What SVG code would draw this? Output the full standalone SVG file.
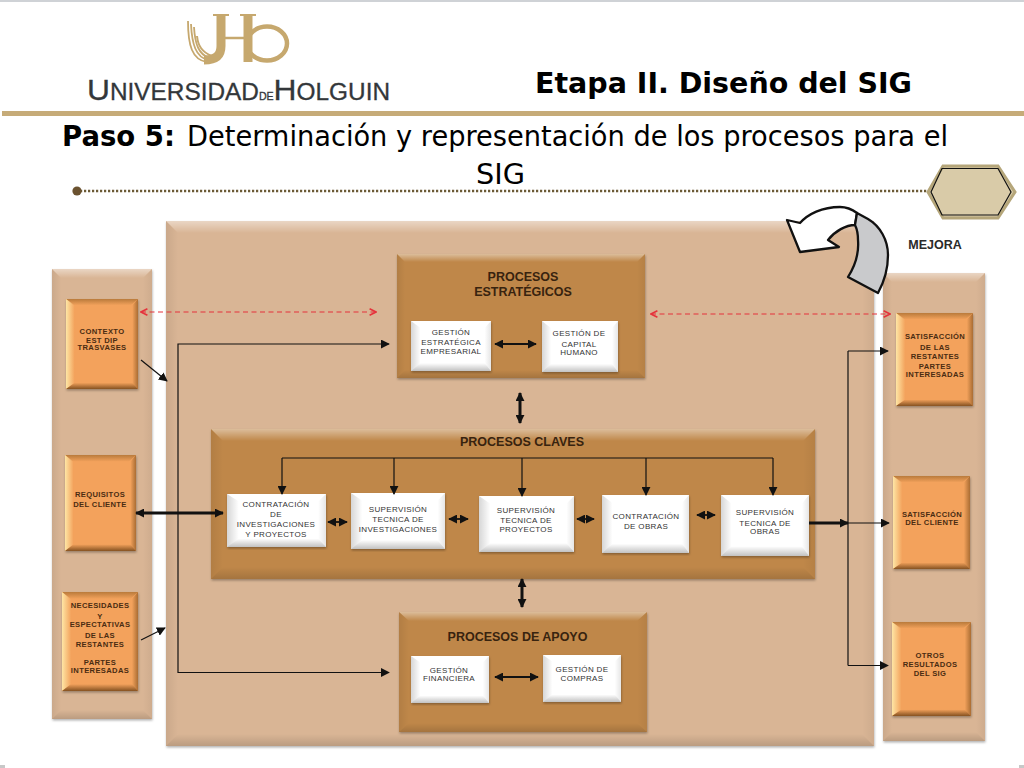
<svg xmlns="http://www.w3.org/2000/svg" width="1024" height="768" viewBox="0 0 1024 768">
<style>
.t{font-family:"Liberation Sans",Arial,sans-serif;text-anchor:middle}
.w{font-size:8px;fill:#333;letter-spacing:.35px}
.o{font-size:7.6px;fill:#4a2c12;font-weight:bold;letter-spacing:.35px}
.h{font-size:12.5px;fill:#38230f;font-weight:bold}
.title{font-family:"DejaVu Sans",Verdana,sans-serif;fill:#000;font-size:29px}
.panel{fill:#d9b595;filter:url(#sh)}
.proc{fill:#bf8748;filter:url(#sh)}
.org{fill:#f3a25c;filter:url(#sh)}
.wht{fill:#fff;filter:url(#sh)}
.top{fill:url(#gTop)}
.lft{fill:url(#gLft)}
.rgt{fill:url(#gRgt)}
.bot{fill:url(#gBot)}
.c{fill:none;stroke:#111}
.s1{stroke-width:1.2px}
.s2{stroke-width:1.8px}
.s3{stroke-width:3px}
.e{marker-end:url(#a)}
.b{marker-start:url(#a);marker-end:url(#a)}
.r{fill:none;stroke:#e5333c;stroke-width:1.2px;stroke-dasharray:5 3.5;marker-start:url(#ar);marker-end:url(#ar)}
</style>
<defs>
<filter id="sh" x="-5%" y="-5%" width="110%" height="110%"><feDropShadow dx="0.5" dy="1.5" stdDeviation="1.2" flood-color="#000" flood-opacity=".3"/></filter>
<linearGradient id="gTop" x1="0" y1="0" x2="0" y2="1"><stop offset="0" stop-color="#fff" stop-opacity=".45"/><stop offset="1" stop-color="#fff" stop-opacity="0"/></linearGradient>
<linearGradient id="gLft" x1="0" y1="0" x2="1" y2="0"><stop offset="0" stop-color="#000" stop-opacity=".07"/><stop offset="1" stop-color="#000" stop-opacity="0"/></linearGradient>
<linearGradient id="gRgt" x1="1" y1="0" x2="0" y2="0"><stop offset="0" stop-color="#000" stop-opacity=".05"/><stop offset="1" stop-color="#000" stop-opacity="0"/></linearGradient>
<linearGradient id="gBot" x1="0" y1="1" x2="0" y2="0"><stop offset="0" stop-color="#000" stop-opacity=".14"/><stop offset="1" stop-color="#000" stop-opacity="0"/></linearGradient>
<linearGradient id="oTop" x1="0" y1="0" x2="0" y2="1"><stop offset="0" stop-color="#8a5a20" stop-opacity=".55"/><stop offset="1" stop-color="#8a5a20" stop-opacity="0"/></linearGradient>
<linearGradient id="oLft" x1="0" y1="0" x2="1" y2="0"><stop offset="0" stop-color="#ffe9a8" stop-opacity=".95"/><stop offset="1" stop-color="#ffe9a8" stop-opacity="0"/></linearGradient>
<linearGradient id="oRgt" x1="1" y1="0" x2="0" y2="0"><stop offset="0" stop-color="#7a4a18" stop-opacity=".6"/><stop offset="1" stop-color="#7a4a18" stop-opacity="0"/></linearGradient>
<linearGradient id="oBot" x1="0" y1="1" x2="0" y2="0"><stop offset="0" stop-color="#6a3e12" stop-opacity=".8"/><stop offset="1" stop-color="#6a3e12" stop-opacity="0"/></linearGradient>
<linearGradient id="wLft" x1="0" y1="0" x2="1" y2="0"><stop offset="0" stop-color="#000" stop-opacity=".16"/><stop offset="1" stop-color="#000" stop-opacity="0"/></linearGradient>
<linearGradient id="wRgt" x1="1" y1="0" x2="0" y2="0"><stop offset="0" stop-color="#000" stop-opacity=".1"/><stop offset="1" stop-color="#000" stop-opacity="0"/></linearGradient>
<linearGradient id="wBot" x1="0" y1="1" x2="0" y2="0"><stop offset="0" stop-color="#000" stop-opacity=".24"/><stop offset="1" stop-color="#000" stop-opacity="0"/></linearGradient>
<marker id="a" viewBox="0 0 10 10" refX="9" refY="5" markerWidth="9" markerHeight="9" markerUnits="userSpaceOnUse" orient="auto-start-reverse"><path d="M0 0L10 5L0 10Z" fill="#111"/></marker>
<marker id="ar" viewBox="0 0 10 10" refX="9" refY="5" markerWidth="8" markerHeight="8" markerUnits="userSpaceOnUse" orient="auto-start-reverse"><path d="M1 1L9 5L1 9" fill="none" stroke="#e5333c" stroke-width="2"/></marker>
<symbol id="bo" viewBox="0 0 100 100" preserveAspectRatio="none">
<path d="M0 0H100L90 7H10Z" fill="url(#oTop)"/>
<path d="M0 0L12 7V93L0 100Z" fill="url(#oLft)"/>
<path d="M100 0L92 7V93L100 100Z" fill="url(#oRgt)"/>
<path d="M0 100L12 93H92L100 100Z" fill="url(#oBot)"/>
</symbol>
<symbol id="bw" viewBox="0 0 100 100" preserveAspectRatio="none">
<path d="M0 0L12 14V84L0 100Z" fill="url(#wLft)"/>
<path d="M100 0L92 14V84L100 100Z" fill="url(#wRgt)"/>
<path d="M0 100L12 84H92L100 100Z" fill="url(#wBot)"/>
</symbol>
</defs>
<rect width="1024" height="768" fill="#fff"/>
<rect width="1024" height="2" fill="#cfd2d6"/>
<rect x="2" y="111" width="1022" height="5" fill="#c6ab78"/>
<rect x="0" y="765" width="5" height="3" fill="#c8c8c8"/>
<rect x="1019" y="765" width="5" height="3" fill="#c8c8c8"/>

<g id="logo">
<g fill="none" stroke="#c6a86e">
<path d="M188 21C188 45 192 60 207 62" stroke-width="1.8"/>
<path d="M191 24C192 45 196 57 208 60" stroke-width="1.8"/>
<path d="M194 27C195 45 199 54 209 58" stroke-width="1.8"/>
<path d="M197 36C198 46 202 52 212 56" stroke-width="2"/>
<path d="M204 60C216 60 221 55 221 46V15" stroke-width="9"/>
<path d="M213 15H229M240 15H256" stroke-width="2"/>
<path d="M221 38H248" stroke-width="2.500"/>
<path d="M248 15V62" stroke-width="9"/>
<ellipse cx="267" cy="43.500" rx="20" ry="17" stroke-width="4.500"/>
</g>
<text x="87" y="100" font-family="'Liberation Sans',Arial,sans-serif" fill="#33373a" stroke="#33373a" stroke-width=".3" font-size="30" textLength="303" lengthAdjust="spacingAndGlyphs">U<tspan font-size="23">NIVERSIDAD</tspan><tspan font-size="10">DE</tspan>H<tspan font-size="23">OLGUIN</tspan></text>
</g>

<g id="titles">
<text class="title" x="535" y="93" font-weight="bold" textLength="377" lengthAdjust="spacingAndGlyphs">Etapa II. Diseño del SIG</text>
<text class="title" x="62" y="146" font-weight="bold" textLength="113" lengthAdjust="spacingAndGlyphs">Paso 5:</text>
<text class="title" x="187" y="146" textLength="761" lengthAdjust="spacingAndGlyphs">Determinación y representación de los procesos para el</text>
<text class="title" x="476" y="184" textLength="49" lengthAdjust="spacingAndGlyphs">SIG</text>
</g>

<g id="ornament">
<line x1="80" y1="191" x2="932" y2="191" stroke="#6b5a35" stroke-width="2.6" stroke-dasharray="2.2 1.8"/>
<circle cx="77" cy="191" r="4.6" fill="#6b5230"/>
<polygon points="928,192 943,166 998,166 1015,192 998,218 943,218" fill="#d9cba8" stroke="#b5a67a" stroke-width="3"/>
<polygon points="931,192 942,168.500 998,168.500 1011,192 998,215 942,215" fill="none" stroke="#111" stroke-width="1.2"/>
</g>

<g id="panel-sistema">
<rect class="panel" x="166" y="221" width="708" height="525"/>
<path class="top" d="M166 221H874L862 233H178Z"/><path class="lft" d="M166 221L178 233V734L166 746Z"/><path class="rgt" d="M874 221L862 233V734L874 746Z"/><path class="bot" d="M166 746L178 734H862L874 746Z"/>
</g>
<g id="panel-entradas">
<rect class="panel" x="52" y="269" width="100" height="450"/>
<path class="top" d="M52 269H152L143 278H61Z"/><path class="lft" d="M52 269L61 278V710L52 719Z"/><path class="rgt" d="M152 269L143 278V710L152 719Z"/><path class="bot" d="M52 719L61 710H143L152 719Z"/>
</g>
<g id="panel-salidas">
<rect class="panel" x="883" y="273" width="102" height="468"/>
<path class="top" d="M883 273H985L976 282H892Z"/><path class="lft" d="M883 273L892 282V732L883 741Z"/><path class="rgt" d="M985 273L976 282V732L985 741Z"/><path class="bot" d="M883 741L892 732H976L985 741Z"/>
</g>

<g id="proc-estrategicos">
<rect class="proc" x="397" y="254" width="248" height="124"/>
<path class="top" d="M397 254H645L637 262H405Z"/><path class="lft" d="M397 254L405 262V370L397 378Z"/><path class="rgt" d="M645 254L637 262V370L645 378Z"/><path class="bot" d="M397 378L405 370H637L645 378Z"/>
<text class="t h" x="523" y="281">PROCESOS</text><text class="t h" x="523" y="296">ESTRATÉGICOS</text>
</g>
<g id="proc-claves">
<rect class="proc" x="211" y="429" width="604" height="150"/>
<path class="top" d="M211 429H815L803 441H223Z"/><path class="lft" d="M211 429L223 441V567L211 579Z"/><path class="rgt" d="M815 429L803 441V567L815 579Z"/><path class="bot" d="M211 579L223 567H803L815 579Z"/>
<text class="t h" x="522" y="446">PROCESOS CLAVES</text>
</g>
<g id="proc-apoyo">
<rect class="proc" x="399" y="612" width="248" height="120"/>
<path class="top" d="M399 612H647L637 621H409Z"/><path class="lft" d="M399 612L409 621V723L399 732Z"/><path class="rgt" d="M647 612L637 621V723L647 732Z"/><path class="bot" d="M399 732L409 723H637L647 732Z"/>
<text class="t h" x="517.500" y="641">PROCESOS DE APOYO</text>
</g>

<g id="contexto"><rect class="org" x="66" y="299" width="72" height="90"/><use href="#bo" x="66" y="299" width="72" height="90"/>
<text class="t o" x="102" y="334">CONTEXTO</text><text class="t o" x="102" y="342.500">EST DIP</text><text class="t o" x="102" y="350">TRASVASES</text></g>
<g id="requisitos"><rect class="org" x="65" y="455" width="71" height="96"/><use href="#bo" x="65" y="455" width="71" height="96"/>
<text class="t o" x="100" y="497">REQUISITOS</text><text class="t o" x="100" y="507">DEL CLIENTE</text></g>
<g id="necesidades"><rect class="org" x="62" y="592" width="76" height="99"/><use href="#bo" x="62" y="592" width="76" height="99"/>
<text class="t o" x="100" y="608">NECESIDADES</text><text class="t o" x="100" y="618.500">Y</text><text class="t o" x="100" y="627">ESPECTATIVAS</text><text class="t o" x="100" y="637.500">DE LAS</text><text class="t o" x="100" y="647">RESTANTES</text><text class="t o" x="100" y="665">PARTES</text><text class="t o" x="100" y="673">INTERESADAS</text></g>

<g id="sat-partes"><rect class="org" x="896" y="313" width="77" height="93"/><use href="#bo" x="896" y="313" width="77" height="93"/>
<text class="t o" x="935" y="339">SATISFACCIÓN</text><text class="t o" x="935" y="350">DE LAS</text><text class="t o" x="935" y="359">RESTANTES</text><text class="t o" x="935" y="369">PARTES</text><text class="t o" x="935" y="377">INTERESADAS</text></g>
<g id="sat-cliente"><rect class="org" x="893" y="476" width="77" height="93"/><use href="#bo" x="893" y="476" width="77" height="93"/>
<text class="t o" x="932" y="517">SATISFACCIÓN</text><text class="t o" x="932" y="525">DEL CLIENTE</text></g>
<g id="otros"><rect class="org" x="892" y="622" width="79" height="94"/><use href="#bo" x="892" y="622" width="79" height="94"/>
<text class="t o" x="930" y="658">OTROS</text><text class="t o" x="930" y="667">RESULTADOS</text><text class="t o" x="930" y="676">DEL SIG</text></g>

<g id="gestion-estrategica"><rect class="wht" x="411" y="321" width="80" height="50"/><use href="#bw" x="411" y="321" width="80" height="50"/>
<text class="t w" x="451" y="335">GESTIÓN</text><text class="t w" x="451" y="345">ESTRATÉGICA</text><text class="t w" x="451" y="354">EMPRESARIAL</text></g>
<g id="capital-humano"><rect class="wht" x="542" y="321" width="76" height="51"/><use href="#bw" x="542" y="321" width="76" height="51"/>
<text class="t w" x="579" y="336">GESTIÓN DE</text><text class="t w" x="579" y="347">CAPITAL</text><text class="t w" x="579" y="355">HUMANO</text></g>
<g id="contratacion-inv"><rect class="wht" x="227" y="494" width="99" height="53"/><use href="#bw" x="227" y="494" width="99" height="53"/>
<text class="t w" x="276" y="507">CONTRATACIÓN</text><text class="t w" x="276" y="517">DE</text><text class="t w" x="276" y="527">INVESTIGACIONES</text><text class="t w" x="276" y="537">Y PROYECTOS</text></g>
<g id="supervision-inv"><rect class="wht" x="351" y="493" width="94" height="56"/><use href="#bw" x="351" y="493" width="94" height="56"/>
<text class="t w" x="398" y="512">SUPERVISIÓN</text><text class="t w" x="398" y="522">TECNICA DE</text><text class="t w" x="398" y="532">INVESTIGACIONES</text></g>
<g id="supervision-proy"><rect class="wht" x="479" y="496" width="95" height="56"/><use href="#bw" x="479" y="496" width="95" height="56"/>
<text class="t w" x="526" y="513">SUPERVISIÓN</text><text class="t w" x="526" y="523">TECNICA DE</text><text class="t w" x="526" y="532">PROYECTOS</text></g>
<g id="contratacion-obras"><rect class="wht" x="602" y="495" width="87" height="58"/><use href="#bw" x="602" y="495" width="87" height="58"/>
<text class="t w" x="646" y="519">CONTRATACIÓN</text><text class="t w" x="646" y="529">DE OBRAS</text></g>
<g id="supervision-obras"><rect class="wht" x="721" y="495" width="88" height="61"/><use href="#bw" x="721" y="495" width="88" height="61"/>
<text class="t w" x="765" y="515">SUPERVISIÓN</text><text class="t w" x="765" y="526">TECNICA DE</text><text class="t w" x="765" y="534">OBRAS</text></g>
<g id="gestion-financiera"><rect class="wht" x="411" y="656" width="78" height="47"/><use href="#bw" x="411" y="656" width="78" height="47"/>
<text class="t w" x="449" y="673">GESTIÓN</text><text class="t w" x="449" y="681">FINANCIERA</text></g>
<g id="gestion-compras"><rect class="wht" x="543" y="655" width="78" height="47"/><use href="#bw" x="543" y="655" width="78" height="47"/>
<text class="t w" x="582" y="672">GESTIÓN DE</text><text class="t w" x="582" y="681">COMPRAS</text></g>

<g id="mejora">
<text class="t" x="935" y="249" font-size="12.5" font-weight="bold" fill="#2a2a2a">MEJORA</text>
<path d="M787 220L800 223C808 214 822 207 840 207C848 207 853 210 857 213L855 225C846 225 835 231 828 240L839 247L800 252Z" fill="#fff" stroke="#111" stroke-width="2.300" stroke-linejoin="round"/>
<path d="M857 213L868 219C880 226 888 240 888 255C888 270 884 282 878 293L848 277C855 266 859 252 858 240C858 234 857 229 855 225Z" fill="#c9cacc" stroke="#111" stroke-width="2.300" stroke-linejoin="round"/>
</g>

<g id="connectors">
<path class="r" d="M141 312H376"/>
<path class="r" d="M651 314H890"/>
<path class="c s1" d="M389 344H178V672.500H389" marker-start="url(#a)" marker-end="url(#a)"/>
<path class="c s1 e" d="M141 360L167 381"/>
<path class="c s1 e" d="M141 640L165 628"/>
<path class="c s3 b" d="M136 513H223"/>
<path class="c s2 b" d="M495 344H536"/>
<path class="c s2 b" d="M495 677H538"/>
<path class="c s3 b" d="M520 393V423"/>
<path class="c s3 b" d="M522 579V607"/>
<path class="c s1" d="M282 458H773"/>
<path class="c s1 e" d="M282 458V494"/>
<path class="c s1 e" d="M394 458V494"/>
<path class="c s1 e" d="M522 458V496"/>
<path class="c s1 e" d="M646 458V495"/>
<path class="c s1 e" d="M773 458V495"/>
<path class="c s2 b" d="M328 522H347"/>
<path class="c s2 b" d="M449 519H468"/>
<path class="c s2 b" d="M577 519H594"/>
<path class="c s2 b" d="M697 515H715"/>
<path class="c s3 e" d="M809 523H848"/>
<path class="c s1 e" d="M848 523H889"/>
<path class="c s1" d="M848 351V665.500"/>
<path class="c s1 e" d="M848 351H888"/>
<path class="c s1 e" d="M848 665.500H888"/>
</g>
</svg>
